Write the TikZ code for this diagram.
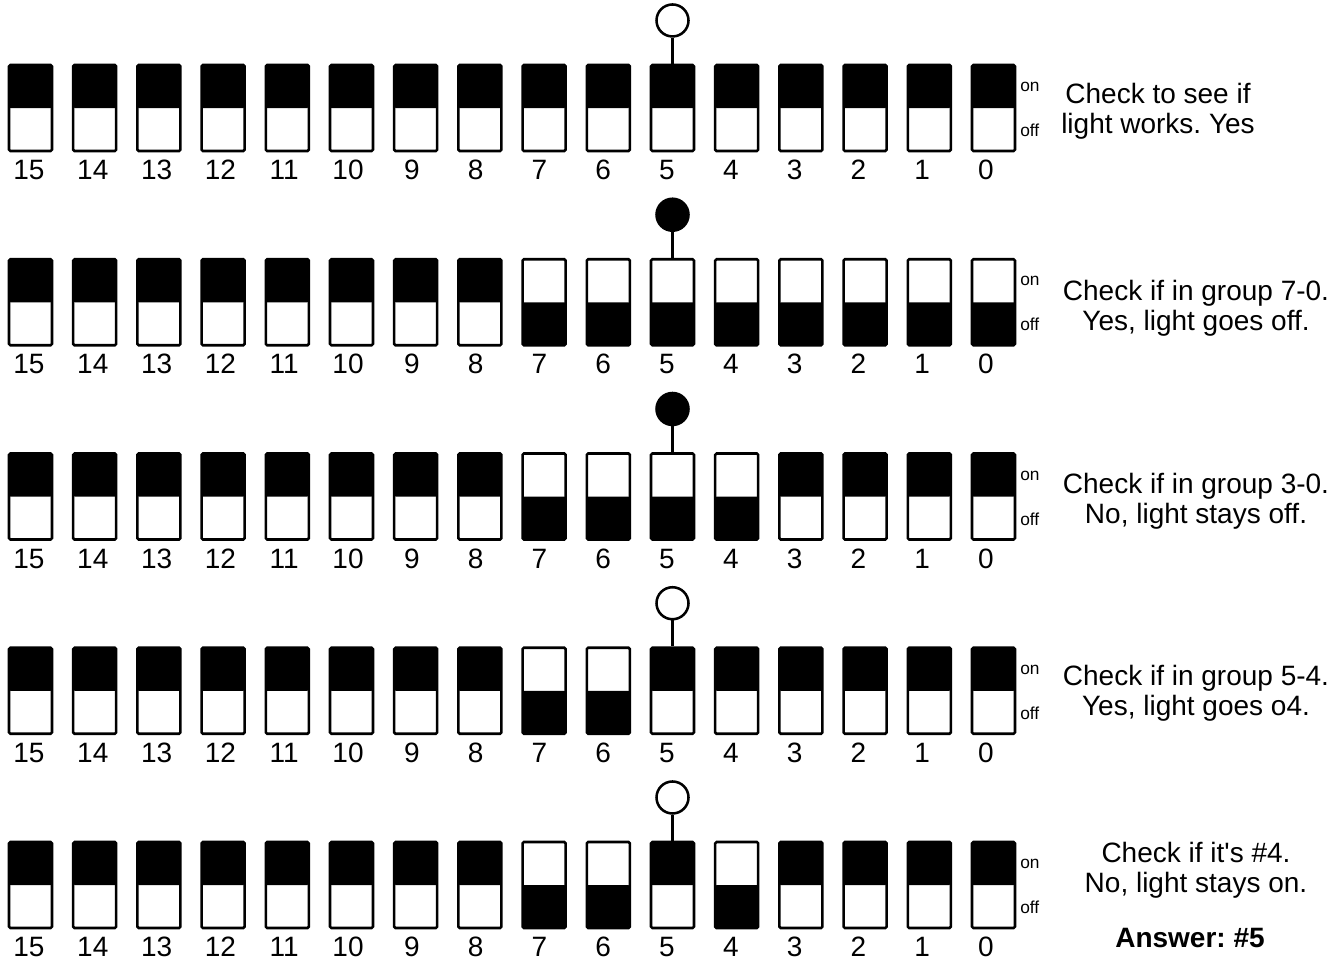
\documentclass[tikz,border=0pt]{standalone}
\usepackage{fontspec}
\setmainfont{Liberation Sans}
\usetikzlibrary{positioning}
\frenchspacing

\begin{document}
\begin{tikzpicture}[
    x=0.75pt, y=-0.75pt,
    switch/.style={draw, line width=1.9pt, rounded corners=1pt, minimum width=32.25pt, minimum height=64.5pt, inner sep=0pt},
    sw1/.style={switch, path picture={\fill (path picture bounding box.north west) rectangle (path picture bounding box.east);}},
    sw0/.style={switch, path picture={\fill (path picture bounding box.south west) rectangle (path picture bounding box.east);}},
    lamp/.style={circle, draw, line width=1.9pt, minimum size=24pt, inner sep=0pt},
    wire/.style={line width=1.9pt},
    num/.style={font=\fontsize{21}{25}\selectfont, inner sep=0pt, anchor=base},
    state/.style={font=\fontsize{13}{15}\selectfont, inner sep=0pt, anchor=base west},
    note/.style={font=\fontsize{21}{22.5}\selectfont, align=center, inner sep=0pt}
]
    \useasboundingbox (0,0) rectangle (1342,961);
    \foreach \r/\bits/\lit in {
        1/{1,1,1,1,1,1,1,1,1,1,1,1,1,1,1,1}/white,
        2/{1,1,1,1,1,1,1,1,0,0,0,0,0,0,0,0}/black,
        3/{1,1,1,1,1,1,1,1,0,0,0,0,1,1,1,1}/black,
        4/{1,1,1,1,1,1,1,1,0,0,1,1,1,1,1,1}/white,
        5/{1,1,1,1,1,1,1,1,0,0,1,0,1,1,1,1}/white} {
        \pgfmathsetmacro\rowy{63.5+194.25*(\r-1)}
        \foreach \s [count=\k from 0] in \bits {
            \pgfmathtruncatemacro\bit{15-\k}
            \node[sw\s] (sw-\r-\bit) at ({30.5+64.2*\k},{\rowy+44.5}) {};
            \node[num] (lbl-\r-\bit) at ({29+63.8*\k},{\rowy+116}) {\bit};
        }
        \node[lamp, fill=\lit, above=19.5pt of sw-\r-5] (lamp-\r) {};
        \draw[wire] (lamp-\r) -- (sw-\r-5);
        \node[state] (on-\r) at (1020,{\rowy+28}) {on};
        \node[state] (off-\r) at (1020,{\rowy+73}) {off};
    }
    \node[note] (note-1) at (1158,111) {Check to see if\\light works. Yes};
    \node[note] (note-2) at (1196,308) {Check if in group 7-0.\\Yes, light goes off.};
    \node[note] (note-3) at (1196,501) {Check if in group 3-0.\\No, light stays off.};
    \node[note] (note-4) at (1196,693) {Check if in group 5-4.\\Yes, light goes o4.};
    \node[note] (note-5) at (1196,870) {Check if it\textquotesingle s \#4.\\No, light stays on.};
    \node[note, font=\fontsize{21}{22.5}\selectfont\bfseries, anchor=base] (answer) at (1190,947) {Answer: \#5};
\end{tikzpicture}
\end{document}
